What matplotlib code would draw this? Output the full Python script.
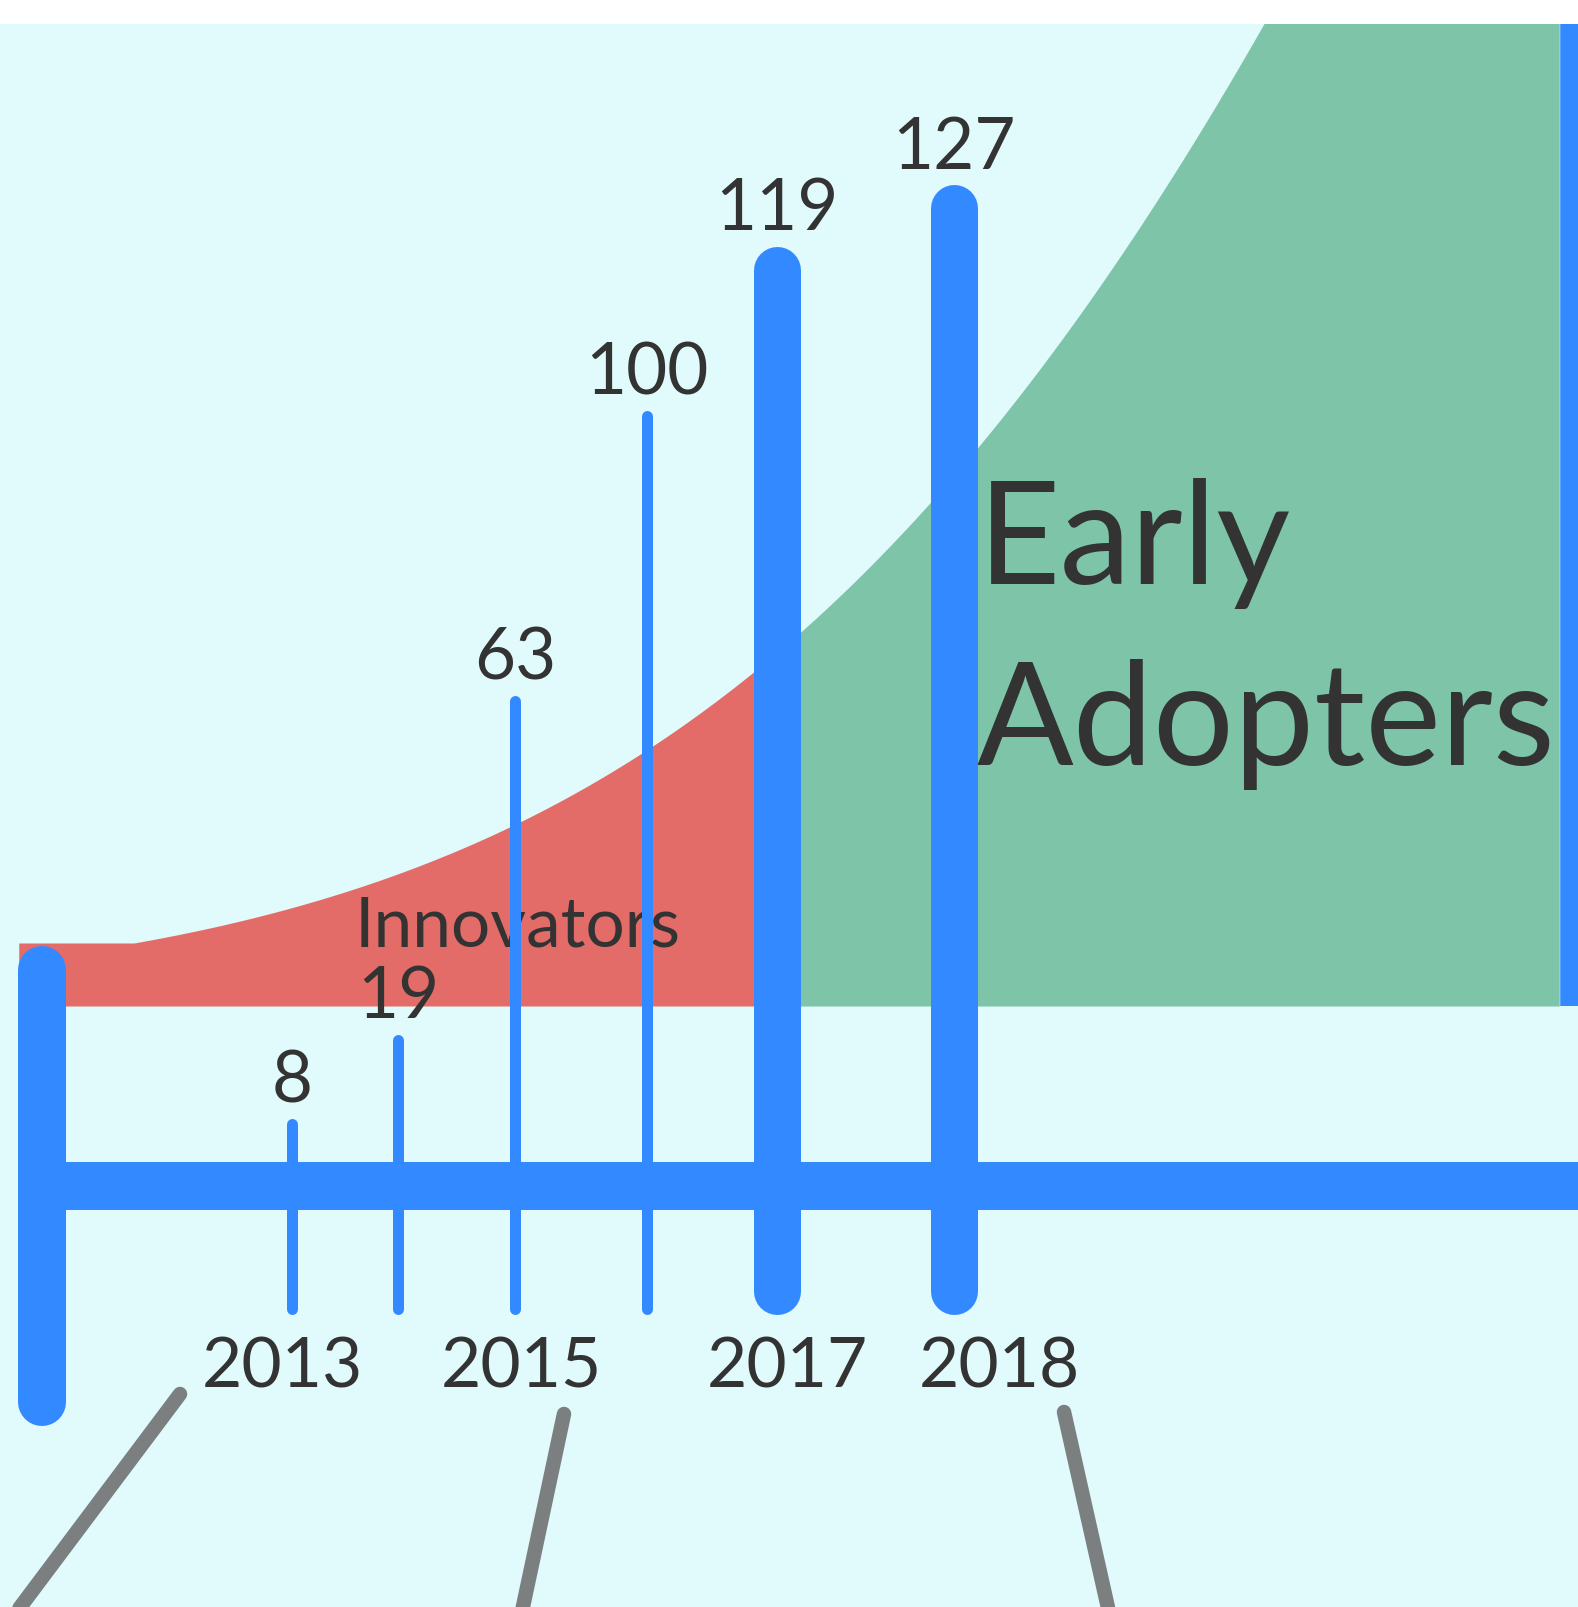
import numpy as np
import matplotlib
matplotlib.use("Agg")
import matplotlib.pyplot as plt

# ---------------- data ----------------
years = ["2013", "2014", "2015", "2016", "2017", "2018"]
values = [8, 19, 63, 100, 119, 127]
year_labels = ["2013", "2015", "2017", "2018"]
segment_names = ["Innovators", "Early\nAdopters"]

# ---------------- layout (canvas pixels, 1578 x 1607, y from top) ----------------
W, H, DPI = 1578, 1607, 100
TOP_BAND = 24
bar_x = [292, 398, 515, 647, 777, 954]
bar_w = [11, 11, 11, 11, 47, 47]
year_label_x = [282, 521, 787, 999]
YEAR_BASE = 1388
AXIS_Y = 1186
AXIS_W = 48
PX_PER_UNIT = 7.7
BAR_BOTTOM = 1314
LABEL_GAP = 16

# adoption (bell) curve shape, in canvas pixels
CURVE_BASE = 1006
CURVE_MU, CURVE_SIGMA, CURVE_PEAK, CURVE_OFFSET, CURVE_FLOOR = 2590, 857, 3219, 10, 63
SEG_EDGES = [18, 777, 1560, W]

BLUE = "#3389FF"
RED = "#E46C68"
GREEN = "#7DC4A8"
BG = "#E1FAFC"
GRAY = "#7B7F80"
TXT = "#333333"

plt.rcParams["font.family"] = ["Lato", "DejaVu Sans"]


def pt(px):
    return px * 72.0 / DPI


fig = plt.figure(figsize=(W / DPI, H / DPI), dpi=DPI, facecolor="white")
pos = [0, 0, 1, (H - TOP_BAND) / H]

# background axes in canvas pixels
bg = fig.add_axes(pos)
bg.set_xlim(0, W)
bg.set_ylim(H, TOP_BAND)
bg.set_facecolor(BG)
bg.axis("off")
bg.add_patch(plt.Rectangle((0, TOP_BAND), W, H, color=BG, zorder=0))

# adoption curve segments
xs = np.linspace(0, W, 1600)
hs = np.maximum(CURVE_FLOOR, CURVE_OFFSET +
                CURVE_PEAK * np.exp(-(xs - CURVE_MU) ** 2 / (2 * CURVE_SIGMA ** 2)))
ytop = CURVE_BASE - hs
for (x0, x1), col in zip(zip(SEG_EDGES[:-1], SEG_EDGES[1:]), [RED, GREEN, BLUE]):
    m = (xs >= x0) & (xs <= x1)
    bg.fill_between(xs[m], CURVE_BASE, ytop[m], color=col, lw=0, zorder=1)

# segment labels
bg.text(355, 946, segment_names[0], fontsize=50, color=TXT,
        ha="left", va="baseline", zorder=2)
for i, line in enumerate(segment_names[1].split("\n")):
    bg.text(977 if i else 978, 584 + 181 * i, line, fontsize=103, color=TXT,
            ha="left", va="baseline", zorder=2)

# gray connector lines
for (xa, ya), (xb, yb) in [((180, 1394), (3, 1630)),
                           ((564, 1414), (518, 1630)),
                           ((1064, 1412), (1113, 1630))]:
    bg.plot([xa, xb], [ya, yb], color=GRAY, lw=pt(14.5),
            solid_capstyle="round", zorder=2)

# left vertical bar
bg.plot([42, 42], [946 + AXIS_W / 2, 1426 - AXIS_W / 2], color=BLUE,
        lw=pt(AXIS_W), solid_capstyle="round", zorder=3)

# year labels
for x, lab in zip(year_label_x, year_labels):
    bg.text(x, YEAR_BASE, lab, fontsize=50, color=TXT, ha="center",
            va="baseline", zorder=4)

# ---------------- data axes: values ----------------
ax = fig.add_axes(pos)
ax.patch.set_alpha(0)
ax.axis("off")
ax.set_xlim(0, W)
ax.set_ylim(-(H - AXIS_Y) / PX_PER_UNIT, (AXIS_Y - TOP_BAND) / PX_PER_UNIT)

# axis line at value 0
ax.plot([42, W + 10], [0, 0], color=BLUE, lw=pt(AXIS_W),
        solid_capstyle="butt", zorder=3)

for x, v, w in zip(bar_x, values, bar_w):
    r = w / 2.0
    y0 = -(BAR_BOTTOM - AXIS_Y - r) / PX_PER_UNIT
    ax.plot([x, x], [y0, v], color=BLUE, lw=pt(w),
            solid_capstyle="round", zorder=4)
    ax.annotate(str(v), (x, v), xytext=(0, pt(r + LABEL_GAP)),
                textcoords="offset points", ha="center", va="baseline",
                fontsize=51, color=TXT, zorder=5)

fig.savefig("out.png", dpi=DPI, facecolor="white")
